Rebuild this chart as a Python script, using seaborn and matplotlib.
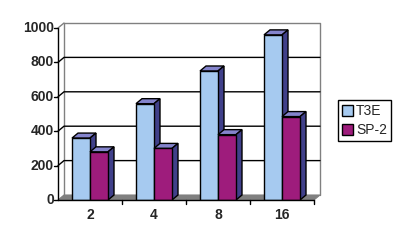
import matplotlib
matplotlib.use("Agg")
import matplotlib.pyplot as plt
from matplotlib.patches import Polygon, Patch
from matplotlib.transforms import IdentityTransform
import seaborn as sns
import pandas as pd

categories = ["2", "4", "8", "16"]
t3e = [360, 560, 750, 960]
sp2 = [280, 300, 380, 485]
series = ["T3E", "SP-2"]
yticks = [0, 200, 400, 600, 800, 1000]

front_colors = ["#A6CAF0", "#9E1C7C"]
top_colors = ["#8484CC", "#7E1E4A"]
side_colors = ["#40408A", "#40203E"]
DX, DY = 6, 5  # depth offset in pixels

df = pd.DataFrame({
    "procs": categories * 2,
    "value": t3e + sp2,
    "machine": [series[0]] * 4 + [series[1]] * 4,
})

sns.set_style("white")
plt.rcParams["font.family"] = ["Liberation Sans", "DejaVu Sans"]

fig = plt.figure(figsize=(3.98, 2.40), dpi=100)
W, H = 398, 240
ax = fig.add_axes([58 / W, 40 / H, 256 / W, 172 / H])
sns.barplot(data=df, x="procs", y="value", hue="machine", order=categories,
            hue_order=series, palette=front_colors, width=0.5625, gap=0,
            edgecolor="black", linewidth=1.0, saturation=1, ax=ax, legend=False)
ax.set_xlim(-0.5, 3.5)
ax.set_ylim(0, 1000)
ax.axis("off")

ident = IdentityTransform()
td = ax.transData
fig.canvas.draw()

def px(x, y):
    return td.transform((x, y))

x0, x1 = -0.5, 3.5
# floor
(fx0, fy0), (fx1, _) = px(x0, 0), px(x1, 0)
floor = Polygon([(fx0, fy0), (fx1, fy0), (fx1 + DX, fy0 + DY), (fx0 + DX, fy0 + DY)],
                closed=True, facecolor="#808080", edgecolor="#808080", lw=0.8,
                transform=ident, zorder=1)
fig.add_artist(floor)
(tx0, ty) = px(x0, 1000)
# back wall edges (gray)
wall_pts = [(fx0 + DX, fy0 + DY), (fx0 + DX, ty + DY), (fx1 + DX, ty + DY), (fx1 + DX, fy0 + DY)]
fig.add_artist(plt.Line2D([p[0] for p in wall_pts], [p[1] for p in wall_pts],
                          color="#808080", lw=1.0, transform=ident, zorder=1.2))
fig.add_artist(plt.Line2D([tx0, tx0 + DX], [ty, ty + DY], color="#808080", lw=1.0,
                          transform=ident, zorder=1.2))
# gridlines on left wall + back wall
for v in yticks[1:-1]:
    gx, gy = px(x0, v)
    fig.add_artist(plt.Line2D([gx, gx + DX, fx1 + DX], [gy, gy + DY, gy + DY],
                              color="black", lw=1.0, transform=ident, zorder=1.5))
# front y axis line with ticks
fig.add_artist(plt.Line2D([fx0, fx0], [fy0, ty], color="black", lw=1.0,
                          transform=ident, zorder=5))
for v in yticks:
    gx, gy = px(x0, v)
    fig.add_artist(plt.Line2D([gx - 4, gx], [gy, gy], color="black", lw=1.0,
                              transform=ident, zorder=5))
    fig.text(gx - 4, gy, str(v), transform=ident, ha="right", va="center",
             fontsize=10, fontweight="bold")
# front x axis line with ticks
fig.add_artist(plt.Line2D([fx0, fx1], [fy0, fy0], color="black", lw=1.0,
                          transform=ident, zorder=5))
for i in range(len(categories)):
    bx, by = px(i + 0.5, 0)
    fig.add_artist(plt.Line2D([bx, bx], [by, by - 4], color="black", lw=1.0,
                              transform=ident, zorder=5))
    cx, cy = px(i, 0)
    fig.text(cx, cy - 8, categories[i], transform=ident, ha="center", va="top",
             fontsize=10, fontweight="bold")

# 3D faces for bars
bars = sorted(ax.patches, key=lambda p: p.get_x())
for k, p in enumerate(bars):
    si = 0 if p.get_facecolor()[0] > 0.6 else 1
    (ax0, ay0) = px(p.get_x(), 0)
    (ax1, ay1) = px(p.get_x() + p.get_width(), p.get_height())
    z = 3 + k * 0.1
    top = Polygon([(ax0, ay1), (ax1, ay1), (ax1 + DX, ay1 + DY), (ax0 + DX, ay1 + DY)],
                  closed=True, facecolor=top_colors[si], edgecolor="black", lw=1.0,
                  transform=ident, zorder=z)
    side = Polygon([(ax1, ay0), (ax1, ay1), (ax1 + DX, ay1 + DY), (ax1 + DX, ay0 + DY)],
                   closed=True, facecolor=side_colors[si], edgecolor="black", lw=1.0,
                   transform=ident, zorder=z)
    fig.add_artist(top)
    fig.add_artist(side)
    p.set_zorder(z + 0.05)
    p.remove()
    p.set_transform(td)
    fig.add_artist(p)

# legend
handles = [Patch(facecolor=c, edgecolor="black", lw=1.0) for c in front_colors]
leg = fig.legend(handles, series, loc="upper left", bbox_to_anchor=(338 / W, 1 - 100 / H),
                 frameon=True, fancybox=False, edgecolor="black", framealpha=1,
                 prop={"size": 10}, handlelength=0.8, handleheight=0.8,
                 handletextpad=0.2, borderpad=0.3, labelspacing=0.35, borderaxespad=0)
leg.get_frame().set_linewidth(1.0)

fig.savefig("out.png", dpi=100)
